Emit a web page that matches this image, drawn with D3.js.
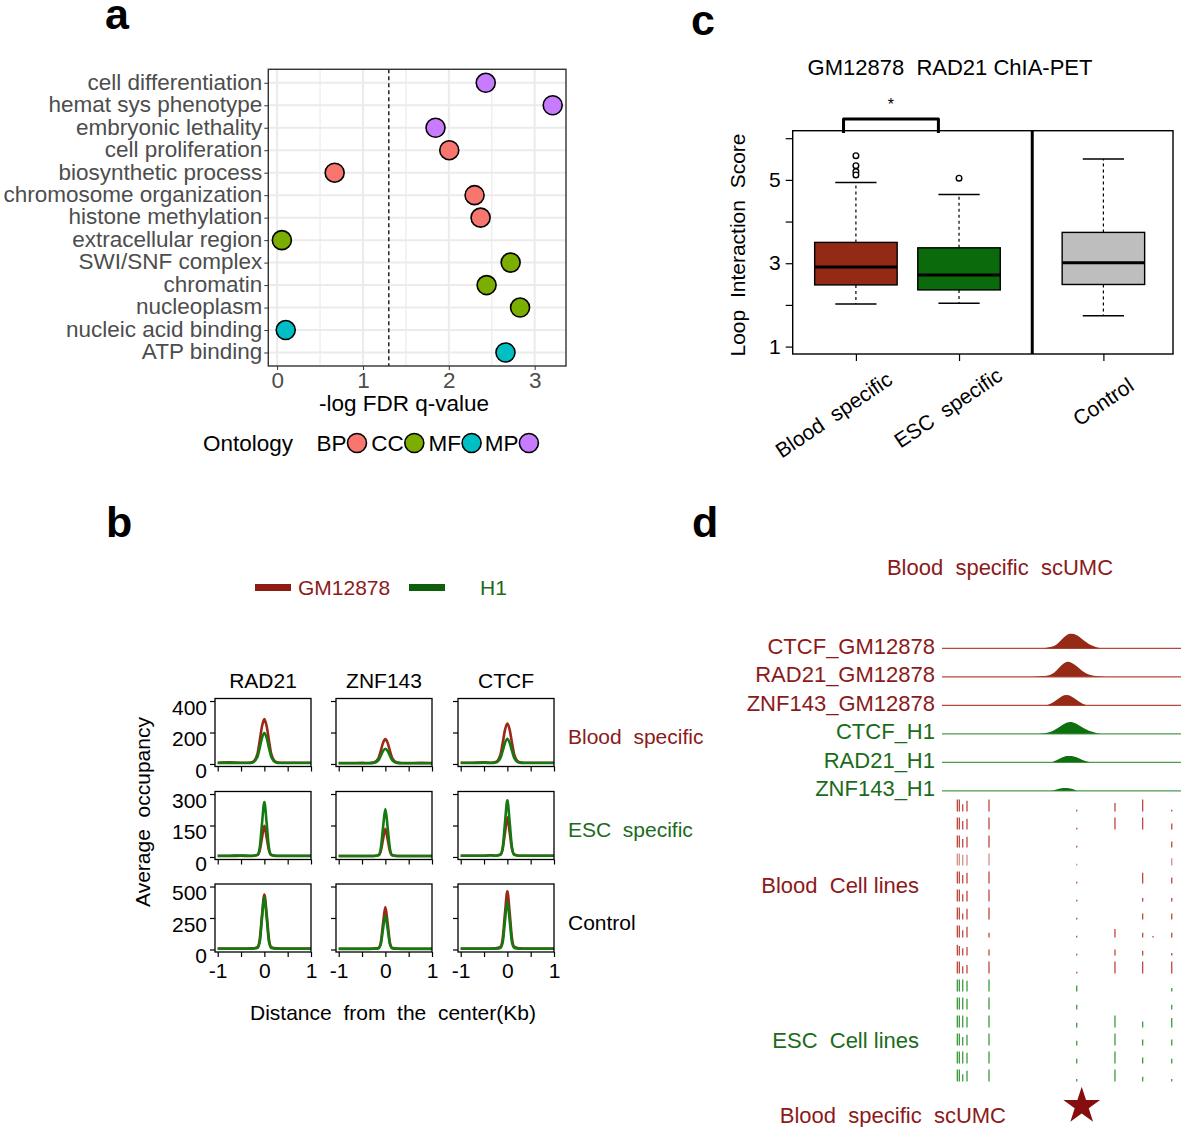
<!DOCTYPE html>
<html><head><meta charset="utf-8">
<script src="https://cdn.jsdelivr.net/npm/d3@7"></script>
<style>
body{margin:0;background:#fff}
svg{display:block}
text{font-family:"Liberation Sans",Arial,Helvetica,sans-serif;white-space:pre}
</style>
</head><body>
<svg id="chart" width="1181" height="1127"></svg>
<script>
// ================= DATA =================
// Panel a
const goTerms = ["cell differentiation","hemat sys phenotype","embryonic lethality","cell proliferation","biosynthetic process","chromosome organization","histone methylation","extracellular region","SWI/SNF complex","chromatin","nucleoplasm","nucleic acid binding","ATP binding"];
const goScores = [2.43, 3.21, 1.845, 2.005, 0.67, 2.30, 2.37, 0.055, 2.72, 2.44, 2.83, 0.10, 2.66];
const goOntology = ["MP","MP","MP","BP","BP","BP","BP","CC","CC","CC","CC","MF","MF"];
const ontologyKeys = ["BP","CC","MF","MP"];
const ontologyColors = ["#F8766D","#7CAE00","#00BFC4","#C77CFF"];
const goTicks = [0,1,2,3];
const goMinorTicks = [0.5,1.5,2.5];
const fdrCut = 1.301;

// Panel b
const profileCols = ["RAD21","ZNF143","CTCF"];
const profileRows = ["Blood  specific","ESC  specific","Control"];
const profileYMax = [400,300,500];
const profileYTicks = [[0,200,400],[0,150,300],[0,250,500]];
const profileXTicks = [-1,-0.5,0,0.5,1];
const profileXLabels = [-1,0,1];
const profileX = [-1,-0.75,-0.5,-0.35,-0.25,-0.15,-0.1,-0.05,0,0.05,0.1,0.15,0.25,0.35,0.5,0.75,1];
const gmBloodRAD21 = [8,10,8,8,13,62,147,240,285,240,147,62,13,8,8,8,8];
const h1BloodRAD21 = [6,7,6,6,10,44,101,166,196,166,101,44,10,6,6,6,6];
const gmBloodZNF143 = [6,6,7,6,9,36,82,134,158,134,82,36,9,6,6,7,6];
const h1BloodZNF143 = [5,5,5,5,7,23,51,82,97,82,51,23,7,5,5,5,5];
const gmBloodCTCF = [8,8,10,8,12,57,133,217,257,217,133,57,12,8,8,8,8];
const h1BloodCTCF = [6,6,8,6,9,37,83,135,160,135,83,37,9,6,6,6,6];
const gmEscRAD21 = [5,5,6,5,5,9,30,92,148,92,30,9,5,5,5,5,5];
const h1EscRAD21 = [6,6,7,6,6,10,42,160,262,160,42,10,6,6,6,6,6];
const gmEscZNF143 = [5,5,5,5,5,8,27,83,134,83,27,8,5,5,5,5,5];
const h1EscZNF143 = [5,5,5,5,5,8,37,139,228,139,37,8,5,5,5,5,5];
const gmEscCTCF = [6,6,6,8,6,12,38,116,189,116,38,12,6,6,6,6,6];
const h1EscCTCF = [6,6,6,8,6,10,44,165,270,165,44,10,6,6,6,6,6];
const gmCtrlRAD21 = [8,8,8,8,9,18,75,275,436,280,80,18,9,8,8,8,8];
const h1CtrlRAD21 = [6,6,6,6,7,12,58,250,415,250,58,12,7,6,6,6,6];
const gmCtrlZNF143 = [6,6,6,6,7,12,52,205,336,205,52,12,7,6,6,6,6];
const h1CtrlZNF143 = [5,5,5,5,6,9,38,162,270,162,38,9,6,5,5,5,5];
const gmCtrlCTCF = [8,8,8,8,9,20,85,290,463,290,85,20,9,8,8,8,8];
const h1CtrlCTCF = [6,6,6,6,7,12,55,230,383,230,55,12,7,6,6,6,6];
const gmProfiles = [[gmBloodRAD21,gmBloodZNF143,gmBloodCTCF],[gmEscRAD21,gmEscZNF143,gmEscCTCF],[gmCtrlRAD21,gmCtrlZNF143,gmCtrlCTCF]];
const h1Profiles = [[h1BloodRAD21,h1BloodZNF143,h1BloodCTCF],[h1EscRAD21,h1EscZNF143,h1EscCTCF],[h1CtrlRAD21,h1CtrlZNF143,h1CtrlCTCF]];

// Panel c
const loopGroups = ["Blood  specific","ESC  specific","Control"];
const loopPos = [1, 2, 3.4];
const loopQ1 = [2.48, 2.36, 2.49];
const loopMedian = [2.91, 2.72, 3.01];
const loopQ3 = [3.50, 3.37, 3.74];
const loopWhiskerLow = [2.02, 2.04, 1.74];
const loopWhiskerHigh = [4.94, 4.65, 5.50];
const loopOutliers = [[5.58, 5.34, 5.20, 5.12], [5.04], []];
const loopColors = ["#922A16", "#0B6A0B", "#BEBEBE"];
const loopYTicks = [1,2,3,4,5,6];
const loopYLabels = [1,3,5];
const loopSeparator = 2.71;

// Panel d
const trackNames = ["CTCF_GM12878","RAD21_GM12878","ZNF143_GM12878","CTCF_H1","RAD21_H1","ZNF143_H1"];
const trackIsBlood = [true,true,true,false,false,false];
const ctcfGmPos = [10,10.5,11,11.5,12,12.5,13,13.5,14,14.5,15,15.5,16];
const ctcfGmSig = [0,3,8,20,50,80,88,80,58,35,17,6,0];
const rad21GmPos = [8.8,9.5,10,10.5,11,11.5,12,12.5,13,13.5,14,14.5,15,15.5,16,16.8];
const rad21GmSig = [0,2,4,6,12,35,70,92,85,65,38,18,8,4,2,0];
const znf143GmPos = [10.5,11,11.5,12,12.5,13,13.5,14,14.5];
const znf143GmSig = [0,10,30,55,63,55,32,12,0];
const ctcfH1Pos = [9.7,10.5,11,11.5,12,12.5,13,13.5,14,14.5,15,15.5,16];
const ctcfH1Sig = [0,4,12,28,50,68,72,60,42,25,12,4,0];
const rad21H1Pos = [11,11.5,12,12.5,13,13.5,14,14.5,14.9];
const rad21H1Sig = [0,10,28,38,38,30,16,5,0];
const znf143H1Pos = [11,11.5,12,12.5,13,13.5,13.6];
const znf143H1Sig = [0,8,16,18,13,2,0];
const trackPos = [ctcfGmPos, rad21GmPos, znf143GmPos, ctcfH1Pos, rad21H1Pos, znf143H1Pos];
const trackSig = [ctcfGmSig, rad21GmSig, znf143GmSig, ctcfH1Sig, rad21H1Sig, znf143H1Sig];
const cellTickPos = [1.54, 1.74, 2.08, 2.51, 4.72, 13.53, 17.37, 20.15, 21.19, 23.07];
const cellRowIsBlood = [1,1,1,1,1,1,1,1,1,1,0,0,0,0,0,0];
const cellTickHeights = [
  [1,1,0.6,0.9,1,0.15,0.7,1,0,0.15],
  [1,1,0.7,0.9,1,0.15,1,1,0,0.5],
  [1,1,0.7,0.9,1,0.15,0,0,0,0.5],
  [1,1,0.9,0.9,1,0.15,0,0,0,0.6],
  [1,1,0.7,0.9,1,0.15,0,0.9,0,0.5],
  [1,1,0.6,0.9,1,0.15,0,0.3,0,0.3],
  [1,1,0.5,0.9,1,0.15,0,0.5,0,0.5],
  [1,1,0.6,0.9,0.4,0.15,0.7,0.4,0.1,0.4],
  [0.9,0.8,0.6,0.7,0.5,0.15,0.5,0.4,0,0.2],
  [1,1,0.6,0.7,1,0.15,1,1,0,1],
  [1,1,1,0.9,1,0.5,0,0,0,0.3],
  [1,1,1,0.9,1,0.4,0,0,0,0.4],
  [1,1,1,0.9,1,0.4,1,0.5,0,0.8],
  [1,1,0.7,0.9,1,0.4,1,0.5,0,0.5],
  [1,1,1,0.9,1,0.4,1,0.5,0,0.4],
  [1,1,0.6,0.9,1,0.2,1,0.4,0,0.2]
];
const scumcPos = 14.03;

// ================= DRAW =================
const FONT = 21;
const RED_TXT = "#8B1A1A", GRN_TXT = "#1A6B1A";
const RED_LN = "#9B2819", GRN_LN = "#137A10";
const svg = d3.select("#chart");
svg.append("rect").attr("width",1181).attr("height",1127).attr("fill","#fff");

// panel letters
[["a",105,29],["b",106,537],["c",691,35],["d",692,537]].forEach(([t,x,y]) => {
  svg.append("text").attr("x",x).attr("y",y).text(t)
    .attr("font-size",43).attr("font-weight","bold").attr("fill","#000");
});

// ---------- Panel a ----------
(function(){
  const L=268.3, R=566, T=69.3, B=366;
  const x = d3.scaleLinear().domain([-0.103, 3.365]).range([L, R]);
  const y = d3.scalePoint().domain(goTerms).range([T, B]).padding(0.6);
  const col = d3.scaleOrdinal().domain(ontologyKeys).range(ontologyColors);
  const g = svg.append("g");
  g.append("rect").attr("x",L).attr("y",T).attr("width",R-L).attr("height",B-T).attr("fill","#fff");
  g.selectAll(".minor").data(goMinorTicks).join("line")
    .attr("x1",d=>x(d)).attr("x2",d=>x(d)).attr("y1",T).attr("y2",B)
    .attr("stroke","#EBEBEB").attr("stroke-width",1.2);
  g.selectAll(".majx").data(goTicks).join("line")
    .attr("x1",d=>x(d)).attr("x2",d=>x(d)).attr("y1",T).attr("y2",B)
    .attr("stroke","#EBEBEB").attr("stroke-width",2);
  g.selectAll(".majy").data(goTerms).join("line")
    .attr("x1",L).attr("x2",R).attr("y1",d=>y(d)).attr("y2",d=>y(d))
    .attr("stroke","#EBEBEB").attr("stroke-width",2);
  g.append("line").attr("x1",x(fdrCut)).attr("x2",x(fdrCut)).attr("y1",T).attr("y2",B)
    .attr("stroke","#000").attr("stroke-width",1.3).attr("stroke-dasharray","4,3");
  g.selectAll(".pt").data(goTerms).join("circle")
    .attr("cx",(d,i)=>x(goScores[i])).attr("cy",d=>y(d)).attr("r",9.5)
    .attr("fill",(d,i)=>col(goOntology[i])).attr("stroke","#000").attr("stroke-width",1.6);
  g.append("rect").attr("x",L).attr("y",T).attr("width",R-L).attr("height",B-T)
    .attr("fill","none").attr("stroke","#333").attr("stroke-width",1.4);
  const ya = g.append("g").attr("transform",`translate(${L},0)`)
    .call(d3.axisLeft(y).tickSize(4).tickPadding(2));
  ya.select(".domain").remove();
  ya.selectAll("line").attr("stroke","#333");
  ya.selectAll("text").attr("font-size",22.5).attr("fill","#4D4D4D").attr("font-family",null).attr("dy","0.28em");
  const xa = g.append("g").attr("transform",`translate(0,${B})`)
    .call(d3.axisBottom(x).tickValues(goTicks).tickFormat(d3.format("d")).tickSize(4).tickPadding(2));
  xa.select(".domain").remove();
  xa.selectAll("line").attr("stroke","#333");
  xa.selectAll("text").attr("font-size",22.5).attr("fill","#4D4D4D").attr("font-family",null);
  g.append("text").attr("x",404).attr("y",411).attr("text-anchor","middle")
    .attr("font-size",22.5).attr("fill","#000").text("-log FDR q-value");
  // legend
  g.append("text").attr("x",203).attr("y",451).attr("font-size",22.5).text("Ontology");
  ontologyKeys.forEach((k,i)=>{
    const cx = 357 + i*57.3;
    g.append("text").attr("x",cx-10.5).attr("y",451).attr("text-anchor","end")
      .attr("font-size",22.5).text(k);
    g.append("circle").attr("cx",cx).attr("cy",443).attr("r",9.5)
      .attr("fill",ontologyColors[i]).attr("stroke","#000").attr("stroke-width",1.6);
  });
})();

// ---------- Panel b ----------
(function(){
  const g = svg.append("g");
  // legend
  g.append("line").attr("x1",255).attr("x2",291).attr("y1",587.5).attr("y2",587.5)
    .attr("stroke","#8E1C12").attr("stroke-width",7);
  g.append("text").attr("x",298).attr("y",595).attr("font-size",FONT).attr("fill",RED_TXT).text("GM12878");
  g.append("line").attr("x1",409).attr("x2",445).attr("y1",587.5).attr("y2",587.5)
    .attr("stroke","#0E5E0E").attr("stroke-width",7);
  g.append("text").attr("x",480).attr("y",595).attr("font-size",FONT).attr("fill",GRN_TXT).text("H1");

  const colLeft = [215, 336, 458], W = 96;
  const rowTop = [698.5, 791.5, 884], H = 68;
  profileCols.forEach((c,j)=>{
    g.append("text").attr("x",colLeft[j]+W/2).attr("y",688).attr("text-anchor","middle")
      .attr("font-size",FONT).text(c);
  });
  profileRows.forEach((rname,r)=>{
    const ymax = profileYMax[r];
    profileCols.forEach((c,j)=>{
      const x = d3.scaleLinear().domain([-1.058, 1.0]).range([colLeft[j], colLeft[j]+W]);
      const y = d3.scaleLinear().domain([-0.04*ymax, 1.04*ymax]).range([rowTop[r]+H, rowTop[r]]);
      const p = g.append("g");
      const line = d3.line().x((d,i)=>x(profileX[i])).y(d=>y(d)).curve(d3.curveMonotoneX);
      p.append("path").attr("d",line(gmProfiles[r][j])).attr("fill","none")
        .attr("stroke",RED_LN).attr("stroke-width",2.6);
      p.append("path").attr("d",line(h1Profiles[r][j])).attr("fill","none")
        .attr("stroke",GRN_LN).attr("stroke-width",2.6);
      p.append("rect").attr("x",colLeft[j]).attr("y",rowTop[r]).attr("width",W).attr("height",H)
        .attr("fill","none").attr("stroke","#000").attr("stroke-width",1.3);
      const ya = p.append("g").attr("transform",`translate(${colLeft[j]},0)`)
        .call(d3.axisLeft(y).tickValues(profileYTicks[r]).tickSize(5).tickPadding(3)
          .tickFormat(j===0 ? d3.format("d") : ""));
      ya.select(".domain").remove();
      ya.selectAll("line").attr("stroke","#000").attr("stroke-width",1.2);
      ya.selectAll("text").attr("font-size",FONT).attr("fill","#000").attr("font-family",null).attr("dy","0.62em");
      const xa = p.append("g").attr("transform",`translate(0,${rowTop[r]+H})`)
        .call(d3.axisBottom(x).tickValues(profileXTicks).tickSize(5).tickPadding(6)
          .tickFormat(d => (r===2 && profileXLabels.includes(d)) ? String(d) : ""));
      xa.select(".domain").remove();
      xa.selectAll("line").attr("stroke","#000").attr("stroke-width",1.2);
      xa.selectAll("text").attr("font-size",FONT).attr("fill","#000").attr("font-family",null);
    });
    g.append("text").attr("x",568).attr("y",rowTop[r]+H/2+4).attr("dominant-baseline","central")
      .attr("font-size",FONT).attr("fill", r===0?RED_TXT:(r===1?GRN_TXT:"#000")).text(rname);
  });
  g.append("text").attr("transform","translate(150,812) rotate(-90)").attr("text-anchor","middle")
    .attr("font-size",FONT).text("Average  occupancy");
  g.append("text").attr("x",393).attr("y",1020).attr("text-anchor","middle")
    .attr("font-size",FONT).text("Distance  from  the  center(Kb)");
})();

// ---------- Panel c ----------
(function(){
  const L=792.7, R=1173, T=130.7, B=354;
  const x = d3.scaleLinear().domain([0.387, 4.075]).range([L, R]);
  const y = d3.scaleLinear().domain([0.822, 6.18]).range([B, T]);
  const g = svg.append("g");
  g.append("text").attr("x",950).attr("y",75).attr("text-anchor","middle")
    .attr("font-size",22).text("GM12878  RAD21 ChIA-PET");
  const bw = 0.4, cw = 0.2;
  loopGroups.forEach((grp,i)=>{
    const cx = x(loopPos[i]);
    g.append("line").attr("x1",cx).attr("x2",cx).attr("y1",y(loopQ3[i])).attr("y2",y(loopWhiskerHigh[i]))
      .attr("stroke","#000").attr("stroke-width",1.2).attr("stroke-dasharray","3,3");
    g.append("line").attr("x1",cx).attr("x2",cx).attr("y1",y(loopQ1[i])).attr("y2",y(loopWhiskerLow[i]))
      .attr("stroke","#000").attr("stroke-width",1.2).attr("stroke-dasharray","3,3");
    [loopWhiskerHigh[i], loopWhiskerLow[i]].forEach(v=>{
      g.append("line").attr("x1",x(loopPos[i]-cw)).attr("x2",x(loopPos[i]+cw))
        .attr("y1",y(v)).attr("y2",y(v)).attr("stroke","#000").attr("stroke-width",1.5);
    });
    g.append("rect").attr("x",x(loopPos[i]-bw)).attr("width",x(loopPos[i]+bw)-x(loopPos[i]-bw))
      .attr("y",y(loopQ3[i])).attr("height",y(loopQ1[i])-y(loopQ3[i]))
      .attr("fill",loopColors[i]).attr("stroke","#000").attr("stroke-width",1.4);
    g.append("line").attr("x1",x(loopPos[i]-bw)).attr("x2",x(loopPos[i]+bw))
      .attr("y1",y(loopMedian[i])).attr("y2",y(loopMedian[i])).attr("stroke","#000").attr("stroke-width",3);
    g.selectAll(null).data(loopOutliers[i]).join("circle")
      .attr("cx",cx).attr("cy",d=>y(d)).attr("r",2.8)
      .attr("fill","#fff").attr("stroke","#000").attr("stroke-width",1.4);
  });
  g.append("rect").attr("x",L).attr("y",T).attr("width",R-L).attr("height",B-T)
    .attr("fill","none").attr("stroke","#000").attr("stroke-width",1.4);
  g.append("line").attr("x1",x(loopSeparator)).attr("x2",x(loopSeparator)).attr("y1",T).attr("y2",B)
    .attr("stroke","#000").attr("stroke-width",3);
  const ya = g.append("g").attr("transform",`translate(${L},0)`)
    .call(d3.axisLeft(y).tickValues(loopYTicks).tickSize(7).tickPadding(5)
      .tickFormat(d => loopYLabels.includes(d) ? d3.format("d")(d) : ""));
  ya.select(".domain").remove();
  ya.selectAll("line").attr("stroke","#000").attr("stroke-width",1.2);
  ya.selectAll("text").attr("font-size",FONT).attr("fill","#000").attr("font-family",null);
  const xa = g.append("g").attr("transform",`translate(0,${B})`)
    .call(d3.axisBottom(x).tickValues(loopPos).tickSize(7).tickFormat(""));
  xa.select(".domain").remove();
  xa.selectAll("line").attr("stroke","#000").attr("stroke-width",1.2);
  const labDx = [38, 45, 32], labDy = [29, 25, 35];
  loopGroups.forEach((grp,i)=>{
    g.append("text").attr("text-anchor","end")
      .attr("transform",`translate(${x(loopPos[i])+labDx[i]},${B+labDy[i]}) rotate(-34)`)
      .attr("font-size",FONT).text(grp);
  });
  g.append("text").attr("transform","translate(745,245) rotate(-90)").attr("text-anchor","middle")
    .attr("font-size",FONT).text("Loop  Interaction  Score");
  // significance bracket
  const bx1 = x(loopPos[0]-0.12), bx2 = x(loopPos[1]-0.2);
  g.append("path").attr("d",`M${bx1},133 L${bx1},119 L${bx2},119 L${bx2},133`)
    .attr("fill","none").attr("stroke","#000").attr("stroke-width",3).attr("stroke-linejoin","round");
  g.append("text").attr("x",(bx1+bx2)/2).attr("y",110).attr("text-anchor","middle")
    .attr("font-size",16).text("*");
})();

// ---------- Panel d ----------
(function(){
  const DF = 22;
  const g = svg.append("g");
  const x = d3.scaleLinear().domain([0, 24]).range([942, 1181]);
  const sigScale = d3.scaleLinear().domain([0, 100]).range([0, 17]);
  g.append("text").attr("x",1000).attr("y",575).attr("text-anchor","middle")
    .attr("font-size",DF).attr("fill",RED_TXT).text("Blood  specific  scUMC");
  trackNames.forEach((nm,i)=>{
    const base = 648.3 + i*28.5;
    const blood = trackIsBlood[i];
    g.append("line").attr("x1",x(0)).attr("x2",x(24)).attr("y1",base).attr("y2",base)
      .attr("stroke", blood ? "#B5483A" : "#4E9A4E").attr("stroke-width",1.2);
    const area = d3.area().x((d,k)=>x(trackPos[i][k])).y0(base).y1(d=>base - sigScale(d)).curve(d3.curveBasis);
    g.append("path").attr("d",area(trackSig[i])).attr("fill", blood ? "#952B17" : "#0E6F0E");
    g.append("text").attr("x",935).attr("y",base-2).attr("text-anchor","end").attr("dominant-baseline","central")
      .attr("font-size",DF).attr("fill", blood ? RED_TXT : GRN_TXT).text(nm);
  });
  cellTickHeights.forEach((row,r)=>{
    const bottom = 811.5 + r*18;
    const blood = cellRowIsBlood[r]===1;
    const colr = blood ? (r===3 ? "#D49088" : "#C0473C") : "#3C9A3C";
    row.forEach((h,k)=>{
      if (h<=0) return;
      g.append("line").attr("x1",x(cellTickPos[k])).attr("x2",x(cellTickPos[k]))
        .attr("y1",bottom).attr("y2",bottom - Math.max(1.5, h*12))
        .attr("stroke",colr).attr("stroke-width",1.3);
    });
  });
  g.append("text").attr("x",919).attr("y",885).attr("text-anchor","end").attr("dominant-baseline","central")
    .attr("font-size",DF).attr("fill",RED_TXT).text("Blood  Cell lines");
  g.append("text").attr("x",919).attr("y",1040).attr("text-anchor","end").attr("dominant-baseline","central")
    .attr("font-size",DF).attr("fill",GRN_TXT).text("ESC  Cell lines");
  g.append("text").attr("x",1006).attr("y",1115).attr("text-anchor","end").attr("dominant-baseline","central")
    .attr("font-size",DF).attr("fill",RED_TXT).text("Blood  specific  scUMC");
  g.append("path").attr("d",d3.symbol(d3.symbolStar).size(420)())
    .attr("transform",`translate(${x(scumcPos)},1106)`).attr("fill","#860E0E");
})();
</script>
</body></html>
